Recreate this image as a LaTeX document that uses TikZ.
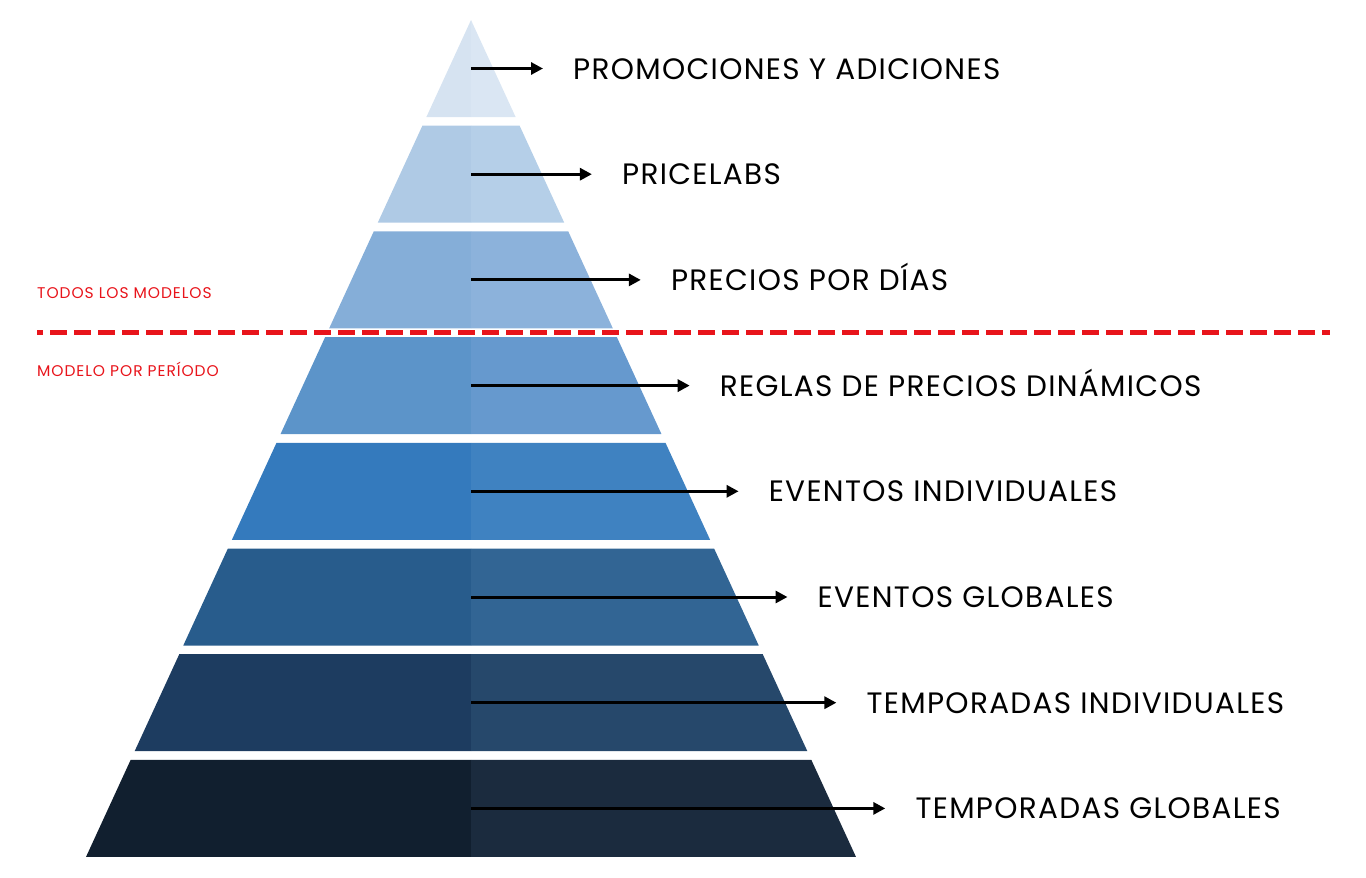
\documentclass[tikz,border=0pt]{standalone}
\usepackage{fontspec}
\setmainfont{Poppins}
\usepackage{tikz}
\usetikzlibrary{positioning, arrows.meta}
\definecolor{bandAl}{HTML}{D6E3F1}\definecolor{bandAr}{HTML}{DAE6F3}
\definecolor{bandBl}{HTML}{AFCAE5}\definecolor{bandBr}{HTML}{B5CFE8}
\definecolor{bandCl}{HTML}{85AED8}\definecolor{bandCr}{HTML}{8CB2DB}
\definecolor{bandDl}{HTML}{5C94C9}\definecolor{bandDr}{HTML}{6699CE}
\definecolor{bandEl}{HTML}{347ABD}\definecolor{bandEr}{HTML}{3F82C1}
\definecolor{bandFl}{HTML}{285C8C}\definecolor{bandFr}{HTML}{326594}
\definecolor{bandGl}{HTML}{1D3C60}\definecolor{bandGr}{HTML}{26486B}
\definecolor{bandHl}{HTML}{111F2F}\definecolor{bandHr}{HTML}{1B2B3E}
\definecolor{splitred}{HTML}{E8141B}

\begin{document}
\begin{tikzpicture}[x=1pt, y=-1pt,
    levellabel/.style={anchor=west, inner xsep=30pt, inner ysep=0pt,
      text height=21pt, text depth=0pt,
      font=\fontsize{29.5}{32}\selectfont\addfontfeatures{LetterSpace=4.5}},
    zonelabel/.style={anchor=west, inner sep=0pt, text=splitred,
      text height=11pt, text depth=0pt,
      font=\fontsize{15.5}{17}\selectfont\addfontfeatures{LetterSpace=6}},
    pointer/.style={line width=3pt, -{Triangle[length=12pt, width=12pt]}}]
  \useasboundingbox (0,0) rectangle (1366,878);
  % pyramid bands, left half a little darker than the right
  \foreach \i/\lc/\rc/\txt in {1/bandAl/bandAr/PROMOCIONES Y ADICIONES,
      2/bandBl/bandBr/PRICELABS, 3/bandCl/bandCr/PRECIOS POR DÍAS,
      4/bandDl/bandDr/REGLAS DE PRECIOS DINÁMICOS, 5/bandEl/bandEr/EVENTOS INDIVIDUALES,
      6/bandFl/bandFr/EVENTOS GLOBALES, 7/bandGl/bandGr/TEMPORADAS INDIVIDUALES,
      8/bandHl/bandHr/TEMPORADAS GLOBALES}{
    \pgfmathsetmacro\ytop{20+(\i-1)*105.7}
    \pgfmathsetmacro\ybot{\ytop+97}
    \pgfmathsetmacro\wtop{(\ytop-20)*0.46}
    \pgfmathsetmacro\wbot{(\ybot-20)*0.46}
    \pgfmathsetmacro\ymid{(\ytop+\ybot)/2}
    \pgfmathsetmacro\xtip{543+(\i-1)*48.9}
    \fill[\lc] (471-\wtop,\ytop) -- (471,\ytop) -- (471,\ybot) -- (471-\wbot,\ybot) -- cycle;
    \fill[\rc] (471,\ytop) -- (471+\wtop,\ytop) -- (471+\wbot,\ybot) -- (471,\ybot) -- cycle;
    \coordinate (mid\i) at (471,\ymid);
    \node[levellabel] (lvl\i) at (\xtip,\ymid) {\txt};
    \draw[pointer] (mid\i) -- (lvl\i.west);
  }
  % split between the two pricing zones
  \coordinate (splitL) at (37,332);
  \coordinate (splitR) at (1330,332);
  \draw[splitred, line width=5pt, dash pattern=on 17pt off 7pt, dash phase=11pt] (splitL) -- (splitR);
  \node[zonelabel] (allmodels) at (37,293) {TODOS LOS MODELOS};
  \node[zonelabel] (permodel) at (37,371) {MODELO POR PERÍODO};
\end{tikzpicture}
\end{document}
